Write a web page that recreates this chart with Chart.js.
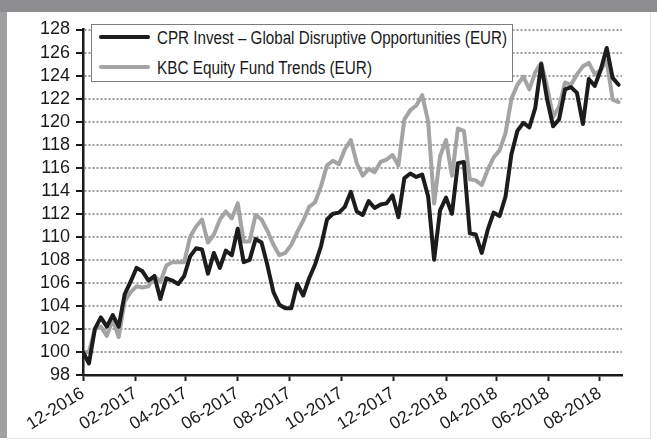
<!DOCTYPE html>
<html>
<head>
<meta charset="utf-8">
<script src="https://cdn.jsdelivr.net/npm/chart.js@4.4.1/dist/chart.umd.min.js"></script>
<style>
html,body{margin:0;padding:0;background:#fff;width:657px;height:441px;overflow:hidden;}
#wrap{position:absolute;left:0;top:0;width:657px;height:441px;}
#chart{position:absolute;left:0;top:0;}
#header{position:absolute;left:0;top:0;width:657px;height:12px;background:#8e8e90;}
#leftband{position:absolute;left:0;top:12px;width:7px;height:426px;background:#a0a0a2;}
#bottomline{position:absolute;left:7px;top:438px;width:644px;height:1px;background:#e4e4e4;}
#rightline{position:absolute;left:650px;top:12px;width:1px;height:427px;background:#e4e4e4;}
#legend{position:absolute;left:91px;top:23.5px;width:422px;height:58px;box-sizing:border-box;background:#fff;border:1.5px solid #7c7c7c;}
.sw{position:absolute;left:6.5px;width:51px;height:4px;border-radius:2px;}
.ltext{position:absolute;left:64.5px;white-space:nowrap;font-family:"Liberation Sans Narrow","Arial Narrow","Liberation Sans",Arial,sans-serif;font-size:18px;line-height:20px;color:#1a1a1a;transform-origin:0 50%;}
</style>
</head>
<body>
<div id="wrap">
  <canvas id="chart" width="657" height="441"></canvas>
  <div id="header"></div>
  <div id="leftband"></div>
  <div id="bottomline"></div>
  <div id="rightline"></div>
  <div id="legend"></div>
</div>
<script>
// ---- data ----
const seriesNames = ['CPR Invest \u2013 Global Disruptive Opportunities (EUR)', 'KBC Equity Fund Trends (EUR)'];

const dates = [
 '2016-12-01','2016-12-08','2016-12-15','2016-12-22','2016-12-29',
 '2017-01-05','2017-01-12','2017-01-19','2017-01-26',
 '2017-02-02','2017-02-09','2017-02-16','2017-02-23',
 '2017-03-02','2017-03-09','2017-03-16','2017-03-23','2017-03-30',
 '2017-04-06','2017-04-13','2017-04-20','2017-04-27',
 '2017-05-04','2017-05-11','2017-05-18','2017-05-25',
 '2017-06-01','2017-06-08','2017-06-15','2017-06-22','2017-06-29',
 '2017-07-06','2017-07-13','2017-07-20','2017-07-27',
 '2017-08-03','2017-08-10','2017-08-17','2017-08-24','2017-08-31',
 '2017-09-07','2017-09-14','2017-09-21','2017-09-28',
 '2017-10-05','2017-10-12','2017-10-19','2017-10-26',
 '2017-11-02','2017-11-09','2017-11-16','2017-11-23','2017-11-30',
 '2017-12-07','2017-12-14','2017-12-21','2017-12-28',
 '2018-01-04','2018-01-11','2018-01-18','2018-01-25',
 '2018-02-01','2018-02-08','2018-02-15','2018-02-22',
 '2018-03-01','2018-03-08','2018-03-15','2018-03-22','2018-03-29',
 '2018-04-05','2018-04-12','2018-04-19','2018-04-26',
 '2018-05-03','2018-05-10','2018-05-17','2018-05-24','2018-05-31',
 '2018-06-07','2018-06-14','2018-06-21','2018-06-28',
 '2018-07-05','2018-07-12','2018-07-19','2018-07-26',
 '2018-08-02','2018-08-09','2018-08-16','2018-08-23'
];

const cprValues = [
 100.0, 99.0,102.0,103.0,102.2,103.2,102.2,105.0,106.1,107.3,
 107.0,106.2,106.6,104.6,106.4,106.2,105.9,106.6,108.3,109.0,
 108.9,106.8,108.6,107.3,108.8,108.4,110.7,107.8,108.0,109.8,
 109.5,107.5,105.2,104.1,103.8,103.8,105.9,104.9,106.4,107.6,
 109.2,111.5,112.0,112.1,112.6,113.9,112.2,111.9,113.1,112.5,
 112.8,112.9,113.6,111.7,115.1,115.5,115.2,115.4,113.5,108.0,
 112.3,113.4,112.0,116.4,116.5,110.3,110.2,108.6,110.6,112.1,
 111.8,113.5,117.2,119.2,119.9,119.5,121.2,125.0,121.9,119.6,
 120.2,122.8,123.0,122.5,119.8,123.7,123.1,124.5,126.4,123.8,
 123.2
];

const kbcValues = [
 100.0,100.0,102.0,102.2,101.4,102.8,101.3,104.4,105.2,105.7,
 105.6,105.7,106.6,106.1,107.5,107.8,107.8,107.8,110.0,110.9,
 111.5,109.5,110.2,111.5,112.2,111.6,112.9,109.6,109.6,111.9,
 111.5,110.5,109.3,108.4,108.6,109.3,110.4,111.4,112.6,113.0,
 114.4,116.2,116.6,116.3,117.6,118.4,116.4,115.3,115.9,115.6,
 116.5,116.7,117.1,116.2,120.2,121.0,121.4,122.3,120.0,112.9,
 117.0,118.4,115.3,119.4,119.2,115.0,114.9,114.5,115.8,116.9,
 117.5,119.0,122.0,123.2,123.9,122.8,124.3,125.1,123.0,120.4,
 121.3,123.4,123.2,124.1,124.8,125.1,124.1,124.5,125.3,121.9,
 121.7
];

const xTickDates = ['2016-12-01','2017-02-01','2017-04-01','2017-06-01','2017-08-01','2017-10-01','2017-12-01','2018-02-01','2018-04-01','2018-06-01','2018-08-01'];
const xTickLabels = ['12-2016','02-2017','04-2017','06-2017','08-2017','10-2017','12-2017','02-2018','04-2018','06-2018','08-2018'];
const yTickValues = [98,100,102,104,106,108,110,112,114,116,118,120,122,124,126,128];
const yTickLabels = ['98','100','102','104','106','108','110','112','114','116','118','120','122','124','126','128'];
const xEndDate = '2018-08-27';

// ---- helpers ----
function dayNum(s){
  return Date.UTC(+s.slice(0,4), +s.slice(5,7)-1, +s.slice(8,10)) / 86400000;
}
const origin = dayNum(xTickDates[0]);
const toX = s => dayNum(s) - origin;

const colors = ['#1c1c1c', '#a4a4a6'];

// ---- legend (HTML) ----
const legend = document.getElementById('legend');
const rowCenters = [12.5, 42.5];
const textTargets = [350, 215];
seriesNames.forEach((name, i) => {
  const sw = document.createElement('div');
  sw.className = 'sw';
  sw.style.top = (rowCenters[i] - 2) + 'px';
  sw.style.background = colors[i];
  legend.appendChild(sw);
  const t = document.createElement('div');
  t.className = 'ltext';
  t.textContent = name;
  t.style.top = (rowCenters[i] - 9) + 'px';
  t.dataset.w = textTargets[i];
  legend.appendChild(t);
});
function fitLegend(){
  document.querySelectorAll('.ltext').forEach(el => {
    el.style.transform = 'none';
    const w = el.getBoundingClientRect().width;
    if (w > 0) el.style.transform = 'scaleX(' + (+el.dataset.w / w) + ')';
  });
}
fitLegend();
if (document.fonts && document.fonts.ready) document.fonts.ready.then(fitLegend);

// ---- chart ----
const fontFamily = '"Liberation Sans", Arial, sans-serif';
const ctx = document.getElementById('chart').getContext('2d');
new Chart(ctx, {
  type: 'line',
  data: {
    datasets: [
      {
        label: seriesNames[0],
        data: dates.map((d, i) => ({x: toX(d), y: cprValues[i]})),
        borderColor: colors[0], borderWidth: 4, pointRadius: 0, tension: 0,
        borderJoinStyle: 'round', borderCapStyle: 'round', fill: false
      },
      {
        label: seriesNames[1],
        data: dates.map((d, i) => ({x: toX(d), y: kbcValues[i]})),
        borderColor: colors[1], borderWidth: 4, pointRadius: 0, tension: 0,
        borderJoinStyle: 'round', borderCapStyle: 'round', fill: false
      }
    ]
  },
  options: {
    responsive: false,
    animation: false,
    devicePixelRatio: 1,
    layout: {padding: {top: 29.5, right: 35, left: 0, bottom: 0}},
    plugins: {legend: {display: false}, tooltip: {enabled: false}},
    scales: {
      x: {
        type: 'linear',
        min: 0,
        max: toX(xEndDate),
        afterBuildTicks: s => { s.ticks = xTickDates.map(d => ({value: toX(d)})); },
        afterFit: s => { s.height = 66; },
        ticks: {
          autoSkip: false, minRotation: 32, maxRotation: 32, padding: 2,
          color: '#1a1a1a', font: {family: fontFamily, size: 17.5},
          callback: (v, i) => xTickLabels[i]
        },
        grid: {drawOnChartArea: false, drawTicks: true, tickLength: 6, tickColor: '#1a1a1a', tickWidth: 2},
        border: {display: true, color: '#1a1a1a', width: 2.5}
      },
      y: {
        min: 98, max: 128,
        afterBuildTicks: s => { s.ticks = yTickValues.map(v => ({value: v})); },
        afterFit: s => { s.width = 83; },
        ticks: {
          autoSkip: false, padding: 6, color: '#1a1a1a', font: {family: fontFamily, size: 18},
          callback: (v, i) => yTickLabels[i]
        },
        grid: {color: '#9c9c9c', lineWidth: 2, drawTicks: true, tickLength: 7, tickColor: '#1a1a1a', tickWidth: 2},
        border: {display: true, color: '#1a1a1a', width: 2.5, dash: [2, 2]}
      }
    }
  }
});
</script>
</body>
</html>
